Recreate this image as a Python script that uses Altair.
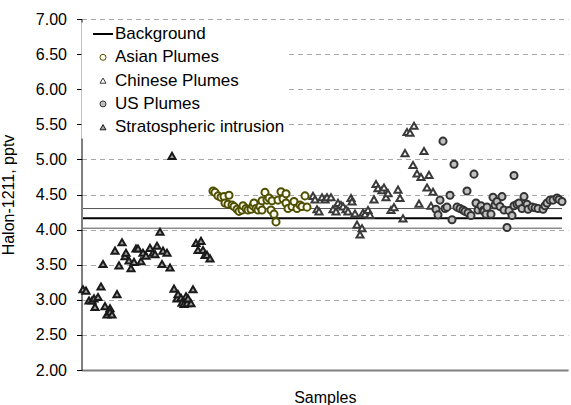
import altair as alt
import pandas as pd

FONT = "Liberation Sans"

# ---- data (sample index, Halon-1211 pptv) ----
strat_x = [4.5, 6, 7.5, 9, 10, 10.5, 12, 13.5, 14.5, 15.5, 16.5, 18, 18, 19, 20.5, 21.5, 22.5, 24, 25.5, 26,
           27.5, 28.5, 30, 31, 32, 33.5, 34.5, 36, 38, 39.5, 40.5, 41.5, 43, 44, 44.5, 46.5, 48, 49, 50, 51.5,
           52, 53.5, 54, 55, 56, 56.5, 57, 58.5, 59.5, 61, 62, 63.5, 64.5, 65.5, 66.5, 68]
strat_y = [3.15, 3.13, 2.99, 2.99, 3.02, 2.90, 3.04, 3.19, 3.51, 2.91, 2.79, 2.88, 2.83, 2.79, 3.70, 3.08, 3.49,
           3.82, 3.62, 3.67, 3.56, 3.45, 3.54, 3.73, 3.73, 3.55, 3.67, 3.63, 3.74, 3.67, 3.65, 3.77, 3.97, 3.51,
           3.70, 3.67, 3.46, 5.05, 3.16, 3.02, 3.08, 3.03, 2.96, 2.94, 3.05, 2.95, 3.02, 2.95, 3.15, 3.81, 3.71,
           3.84, 3.71, 3.64, 3.64, 3.59]

asian_x = [69.5, 70.5, 72, 73.5, 75, 77.5, 75.5, 77, 79, 80, 81.5, 82.5, 84, 84.5, 86, 87, 88.5, 89.5, 90, 91,
           92, 93, 94, 94, 95.5, 96.5, 97.5, 98.5, 99, 100, 101, 102, 103.5, 104.5, 106, 106, 107, 109, 110,
           111.5, 113, 114, 115.5, 116.5]
asian_y = [4.55, 4.53, 4.48, 4.46, 4.47, 4.49, 4.38, 4.36, 4.35, 4.33, 4.29, 4.26, 4.28, 4.34, 4.30, 4.28, 4.29,
           4.34, 4.38, 4.30, 4.28, 4.33, 4.28, 4.41, 4.53, 4.42, 4.45, 4.28, 4.41, 4.22, 4.11, 4.42, 4.54, 4.44,
           4.51, 4.38, 4.30, 4.33, 4.40, 4.30, 4.35, 4.33, 4.48, 4.32]

chinese_x = [119.5, 120.5, 121.5, 122.5, 124, 125.5, 126.5, 128.5, 129.5, 131, 132, 133.5, 134.5, 136, 137, 138.5,
             139, 140.5, 141.5, 143, 144, 144.5, 145.5, 147, 148, 150, 151, 152, 154, 155, 156, 157, 158.5, 160,
             162, 163, 164.5, 165.5, 166.5, 168, 169.5, 170, 171.5, 172.5, 173.5, 175, 176.5, 177.5, 178.5, 179.5]
chinese_y = [4.48, 4.43, 4.29, 4.26, 4.46, 4.43, 4.46, 4.46, 4.29, 4.26, 4.38, 4.35, 4.33, 4.29, 4.26, 4.45, 4.40,
             4.23, 4.07, 3.93, 4.02, 4.24, 4.22, 4.28, 4.21, 4.43, 4.65, 4.59, 4.56, 4.60, 4.46, 4.52, 4.28, 4.32,
             4.57, 4.45, 4.16, 5.09, 5.39, 5.38, 4.92, 5.48, 4.80, 4.37, 4.75, 5.12, 4.60, 4.78, 4.34, 4.54]

us_x = [181, 182, 183, 184.5, 185.5, 186.5, 188, 189, 190, 191.5, 193, 194.5, 195.5, 196.5, 197, 198.5, 200, 201,
        202, 203.5, 204.5, 205, 206, 206.5, 208.5, 209.5, 210.5, 211.5, 213, 214, 215, 216.5, 217.5, 219, 220, 220,
        221.5, 222.5, 224, 225, 226.5, 227, 229, 230.5, 232, 234.5, 235.5, 236.5, 238, 239.5, 241.5, 242.5, 244]
us_y = [4.29, 4.21, 4.42, 5.26, 4.30, 4.32, 4.49, 4.14, 4.93, 4.32, 4.30, 4.28, 4.26, 4.55, 4.24, 4.20, 4.79, 4.38,
        4.28, 4.34, 4.27, 4.26, 4.22, 4.32, 4.22, 4.46, 4.35, 4.40, 4.33, 4.47, 4.28, 4.03, 4.27, 4.20, 4.77, 4.34,
        4.36, 4.38, 4.30, 4.47, 4.36, 4.29, 4.32, 4.31, 4.30, 4.29, 4.34, 4.38, 4.42, 4.42, 4.45, 4.43, 4.40]

bg_level = 4.16
bg_band = [4.02, 4.30]
bg_start = 4.5
bg_end = 244

y_ticks = [2.0, 2.5, 3.0, 3.5, 4.0, 4.5, 5.0, 5.5, 6.0, 6.5, 7.0]
series_order = ["Background", "Asian Plumes", "Chinese Plumes", "US Plumes", "Stratospheric intrusion"]
shape_range = ["M-3.33,0L3.33,0", "circle", "triangle-up", "circle", "triangle-up"]
fill_range = ["transparent", "#fdfdf2", "#ffffff", "#c0c0c0", "#a0a0a0"]
stroke_range = ["#000000", "#4f4f00", "#3a3a3a", "#333333", "#1a1a1a"]

rows = []
for name, xs, ys in [("Stratospheric intrusion", strat_x, strat_y),
                     ("Asian Plumes", asian_x, asian_y),
                     ("Chinese Plumes", chinese_x, chinese_y),
                     ("US Plumes", us_x, us_y)]:
    rows += [{"sample": a, "halon": b, "series": name} for a, b in zip(xs, ys)]
df = pd.DataFrame(rows)

bg_df = pd.DataFrame({"start": [bg_start], "end": [bg_end], "level": [bg_level]})
band_df = pd.DataFrame({"start": [bg_start] * len(bg_band), "end": [bg_end] * len(bg_band), "level": bg_band})

x_scale = alt.Scale(domain=[3.75, 247], nice=False, zero=False)
y_scale = alt.Scale(domain=[2, 7], nice=False, zero=False)

x_axis = alt.Axis(labels=False, ticks=False, grid=False, domainColor="#808080", domainWidth=2,
                  title="Samples", titleFont=FONT, titleFontSize=16, titleFontWeight="normal",
                  titleColor="black", titlePadding=19)
y_axis = alt.Axis(values=y_ticks, format=".2f", grid=True, gridColor="#a8a8a8", gridDash=[5, 4], gridWidth=1,
                  domainColor="black", domainWidth=1, tickColor="black", tickSize=5, tickWidth=1,
                  labelPadding=10, labelFont=FONT, labelFontSize=16, labelColor="black",
                  title="Halon-1211, pptv", titleFont=FONT, titleFontSize=16, titleFontWeight="normal",
                  titleColor="black", titlePadding=19)

leg = alt.Legend(
    title=None, orient="none", legendX=0, legendY=3.5, padding=3, fillColor="white",
    symbolSize=36, symbolOffset=10, labelOffset=3.5,
    symbolStrokeWidth=alt.ExprRef(expr="datum.value === 'Background' ? 2 : 1"),
    labelFont=FONT, labelFontSize=17, labelColor="black",
    rowPadding=5.3, labelLimit=0,
)

rule_band = alt.Chart(band_df).mark_rule(color="#555555", strokeWidth=1).encode(
    x=alt.X("start:Q", scale=x_scale, axis=x_axis),
    x2="end:Q",
    y=alt.Y("level:Q", scale=y_scale, axis=y_axis),
)
rule_main = alt.Chart(bg_df).mark_rule(color="black", strokeWidth=2).encode(
    x=alt.X("start:Q", scale=x_scale, axis=x_axis),
    x2="end:Q",
    y=alt.Y("level:Q", scale=y_scale, axis=y_axis),
)
points = alt.Chart(df).mark_point(size=50, opacity=1).encode(
    x=alt.X("sample:Q", scale=x_scale, axis=x_axis),
    y=alt.Y("halon:Q", scale=y_scale, axis=y_axis),
    shape=alt.Shape("series:N", scale=alt.Scale(domain=series_order, range=shape_range), legend=leg),
    fill=alt.Fill("series:N", scale=alt.Scale(domain=series_order, range=fill_range), legend=leg),
    stroke=alt.Stroke("series:N", scale=alt.Scale(domain=series_order, range=stroke_range), legend=leg),
)

chart = alt.layer(rule_band, rule_main, points).properties(
    width=486.5, height=351,
    padding={"left": 81.5, "top": 19, "right": 3, "bottom": 35},
    autosize=alt.AutoSizeParams(type="none"),
).configure(font=FONT).configure_view(stroke=None)

chart.save("out.html", embed_options={"renderer": "svg", "actions": False})
